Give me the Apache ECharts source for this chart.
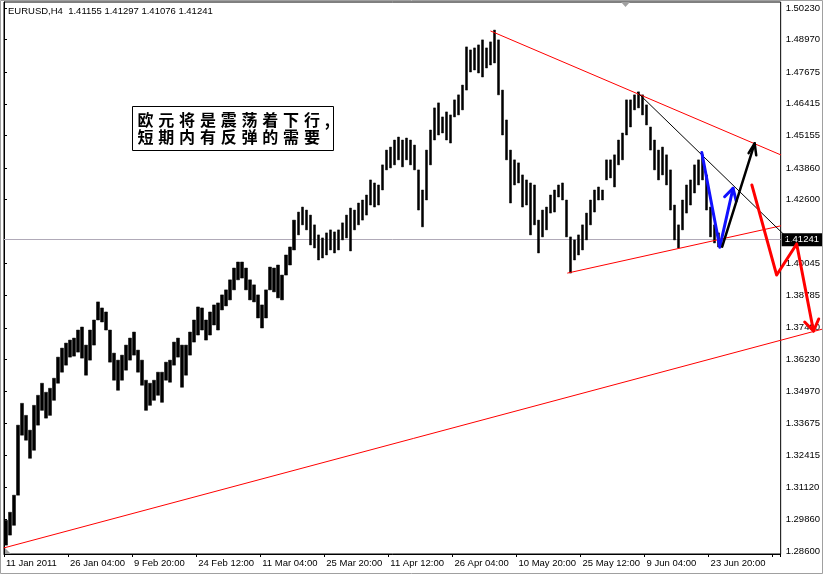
<!DOCTYPE html>
<html><head><meta charset="utf-8">
<script src="https://cdn.jsdelivr.net/npm/echarts@6/dist/echarts.min.js"></script>
<style>html,body{margin:0;padding:0;background:#fff;}#c{width:823px;height:574px;}</style>
</head><body><div id="c"></div>
<script>
// ---- data ----
const symbolName = 'EURUSD,H4';
const lastBarOHLC = [1.41155, 1.41297, 1.41076, 1.41241];
const lastPrice = 1.41241;
// each slot = 4 H4 bars (16 hours); one time label every 16 slots (64 bars)
const slotCount = 194;
const slotsPerLabel = 16;
const xTickLabels = ['11 Jan 2011','26 Jan 04:00','9 Feb 20:00','24 Feb 12:00','11 Mar 04:00','25 Mar 20:00','11 Apr 12:00','26 Apr 04:00','10 May 20:00','25 May 12:00','9 Jun 04:00','23 Jun 20:00'];
const yTickValues = [1.50230,1.48970,1.47675,1.46415,1.45155,1.43860,1.42600,1.40045,1.38785,1.37490,1.36230,1.34970,1.33675,1.32415,1.31120,1.29860,1.28600];
const yMin = 1.28477, yMax = 1.50469;

const highs = [1.2982,1.3014,1.3082,1.3361,1.3448,1.3400,1.3341,1.3440,1.3480,1.3528,
1.3492,1.3508,1.3548,1.3632,1.3668,1.3688,1.3700,1.3708,1.3740,1.3752,
1.3680,1.3740,1.3780,1.3852,1.3828,1.3812,1.3740,1.3648,1.3620,1.3640,
1.3680,1.3708,1.3732,1.3660,1.3620,1.3540,1.3528,1.3540,1.3572,1.3572,
1.3612,1.3620,1.3692,1.3708,1.3680,1.3680,1.3732,1.3780,1.3832,1.3828,
1.3780,1.3812,1.3840,1.3848,1.3880,1.3900,1.3940,1.3987,1.4011,1.4011,
1.3987,1.3940,1.3920,1.3880,1.3840,1.3900,1.3991,1.3987,1.3999,1.3959,
1.4039,1.4071,1.4178,1.4210,1.4230,1.4218,1.4198,1.4159,1.4119,1.4107,
1.4127,1.4139,1.4131,1.4139,1.4167,1.4198,1.4226,1.4218,1.4246,1.4258,
1.4278,1.4338,1.4326,1.4318,1.4398,1.4457,1.4469,1.4497,1.4509,1.4497,
1.4505,1.4497,1.4477,1.4378,1.4298,1.4457,1.4537,1.4625,1.4645,1.4589,
1.4609,1.4597,1.4657,1.4677,1.4716,1.4868,1.4856,1.4864,1.4876,1.4896,
1.4864,1.4888,1.4935,1.4896,1.4696,1.4577,1.4457,1.4418,1.4406,1.4358,
1.4338,1.4326,1.4318,1.4178,1.4218,1.4230,1.4278,1.4298,1.4318,1.4326,
1.4258,1.4111,1.4099,1.4119,1.4159,1.4206,1.4258,1.4298,1.4310,1.4298,
1.4418,1.4418,1.4438,1.4497,1.4525,1.4657,1.4657,1.4677,1.4689,1.4677,
1.4637,1.4549,1.4497,1.4457,1.4469,1.4438,1.4378,1.4238,1.4159,1.4258,
1.4318,1.4338,1.4398,1.4418,1.4438,1.4358,1.4230,1.4159,1.4127];
const lows = [1.2883,1.2923,1.2962,1.3082,1.3321,1.3301,1.3229,1.3261,1.3361,1.3420,
1.3389,1.3400,1.3460,1.3528,1.3572,1.3600,1.3632,1.3636,1.3652,1.3628,
1.3560,1.3620,1.3680,1.3780,1.3772,1.3740,1.3612,1.3540,1.3500,1.3540,
1.3580,1.3620,1.3640,1.3572,1.3520,1.3420,1.3440,1.3460,1.3480,1.3452,
1.3540,1.3532,1.3600,1.3632,1.3512,1.3560,1.3640,1.3692,1.3720,1.3740,
1.3700,1.3720,1.3760,1.3740,1.3820,1.3836,1.3860,1.3900,1.3940,1.3947,
1.3900,1.3860,1.3852,1.3788,1.3748,1.3788,1.3900,1.3892,1.3868,1.3860,
1.3959,1.3999,1.4059,1.4119,1.4159,1.4139,1.4079,1.4067,1.4019,1.4027,
1.4039,1.4059,1.4047,1.4059,1.4099,1.4107,1.4055,1.4139,1.4159,1.4178,
1.4198,1.4238,1.4230,1.4238,1.4298,1.4378,1.4386,1.4398,1.4418,1.4390,
1.4418,1.4398,1.4378,1.4218,1.4151,1.4258,1.4398,1.4497,1.4517,1.4525,
1.4497,1.4485,1.4589,1.4597,1.4617,1.4696,1.4768,1.4776,1.4764,1.4748,
1.4784,1.4796,1.4804,1.4677,1.4517,1.4418,1.4246,1.4318,1.4326,1.4230,
1.4238,1.4119,1.4159,1.4047,1.4111,1.4139,1.4206,1.4210,1.4270,1.4258,
1.4111,1.3967,1.4019,1.4039,1.4059,1.4099,1.4159,1.4210,1.4258,1.4258,
1.4338,1.4346,1.4310,1.4398,1.4418,1.4517,1.4549,1.4617,1.4625,1.4597,
1.4557,1.4457,1.4378,1.4338,1.4358,1.4318,1.4218,1.4099,1.4067,1.4139,
1.4206,1.4238,1.4286,1.4318,1.4338,1.4218,1.4111,1.4087,1.4071];

// drawn objects: [slot position, price]
const longSupport = [[0,1.2872],[204.5,1.3744]];
const upperResistance = [[121.6,1.4931],[194.0,1.4438]];
const lowerSupport = [[140.8,1.3967],[194.0,1.4155]];
const thinTrend = [[158.2,1.4687],[198.0,1.4071]];
const blueArrow = [[174.3,1.4447],[178.8,1.4070],[182.1,1.4305]];
const blueHead = [[180.0,1.4271],[182.1,1.4305],[182.9,1.4254]];
const blackArrow = [[179.4,1.4072],[187.5,1.4484]];
const blackHead = [[186.0,1.4445],[187.5,1.4484],[187.9,1.4436]];
const redArrow = [[186.8,1.4318],[193.0,1.3959],[198.0,1.4083],[202.2,1.3736]];
const redHead = [[200.0,1.3772],[202.2,1.3736],[203.5,1.3784]];
const noteLines = ['欧元将是震荡着下行,', '短期内有反弹的需要'];

// ---- build ----
const categories = [];
for (let i = 0; i < slotCount; i++) {
  categories.push(i % slotsPerLabel === 0 ? (xTickLabels[i / slotsPerLabel] || '') : '');
}
const candles = highs.map((h, i) => [lows[i], h, lows[i], h]);
const FONT = 'Liberation Sans';

const chart = echarts.init(document.getElementById('c'), null, { renderer: 'canvas' });
chart.setOption({
  animation: false,
  backgroundColor: '#fff',
  title: {
    text: symbolName + '  ' + lastBarOHLC.map(v => v.toFixed(5)).join(' '),
    left: 8, top: 6, padding: 0,
    textStyle: { fontSize: 9.5, fontWeight: 'normal', color: '#000', fontFamily: FONT }
  },
  grid: { left: 4, top: 2, width: 777, height: 552, show: true, borderColor: '#000', borderWidth: 1, backgroundColor: '#fff' },
  xAxis: [{
    type: 'category', data: categories, boundaryGap: true,
    axisLine: { lineStyle: { color: '#000', width: 1 } },
    axisTick: { show: true, interval: slotsPerLabel - 1, length: 3, lineStyle: { color: '#000' } },
    axisLabel: { interval: slotsPerLabel - 1, align: 'left', color: '#000', fontSize: 9.5, fontFamily: FONT, margin: 4 },
    splitLine: { show: false }
  }, {
    type: 'value', min: 0, max: slotCount, show: false
  }],
  yAxis: [{
    type: 'value', position: 'right', min: yMin, max: yMax, scale: true,
    axisLine: { show: true, lineStyle: { color: '#000' } },
    axisTick: { show: true, length: 3, customValues: yTickValues, lineStyle: { color: '#000' } },
    axisLabel: { customValues: yTickValues, formatter: v => v.toFixed(5), color: '#000', fontSize: 9.5, fontFamily: FONT, margin: 5 },
    splitLine: { show: false }
  }],
  series: [{
    type: 'candlestick', xAxisIndex: 0, yAxisIndex: 0, data: candles, barWidth: 3,
    itemStyle: { color: '#000', color0: '#000', borderColor: '#000', borderColor0: '#000', borderWidth: 0.5 },
    silent: true,
    markLine: {
      silent: true, symbol: ['none', 'none'], z: 1,
      lineStyle: { color: '#b0aab8', width: 1, type: 'solid' },
      label: { show: true, position: 'end', distance: 1, formatter: () => lastPrice.toFixed(5),
        color: '#fff', backgroundColor: '#000', padding: [2, 3, 1, 3], fontSize: 9.5, fontFamily: FONT },
      data: [{ yAxis: lastPrice }]
    }
  }]
});

// drawn objects, positioned through the chart's own axes
function px(pt) {
  return [chart.convertToPixel({ xAxisIndex: 1 }, pt[0]), chart.convertToPixel({ yAxisIndex: 0 }, pt[1])];
}
function poly(data, color, width) {
  return { type: 'polyline', silent: true, z: 50, shape: { points: data.map(px) },
    style: { stroke: color, lineWidth: width, fill: null, lineCap: 'round', lineJoin: 'round' } };
}
const noteChars = [];
const advance = 20.8;
noteLines.forEach((line, r) => {
  Array.from(line).forEach((ch, i) => {
    noteChars.push({ type: 'text', x: 5 + i * advance, y: 5 + r * 17.5,
      style: { text: ch, font: 'bold 16px "Noto Sans CJK SC"', fill: '#000' } });
  });
});
chart.setOption({
  graphic: [
    poly(longSupport, '#ff0000', 1),
    poly(upperResistance, '#ff0000', 1),
    poly(lowerSupport, '#ff0000', 1),
    poly(thinTrend, '#000', 1),
    poly(blueArrow, '#1010ff', 3),
    poly(blueHead, '#1010ff', 3),
    poly(blackArrow, '#000', 2.5),
    poly(blackHead, '#000', 2.5),
    poly(redArrow, '#ff0000', 3),
    poly(redHead, '#ff0000', 3),
    { type: 'rect', silent: true, z: 100, shape: { x: 0.5, y: 0.5, width: 822, height: 573 }, style: { fill: 'none', stroke: '#a0a0a0', lineWidth: 1 } },
    { type: 'polygon', silent: true, z: 100, shape: { points: [[621, 2], [630, 2], [625.5, 7]] }, style: { fill: '#a0a0a0' } },
    { type: 'polygon', silent: true, z: 100, shape: { points: [[5, 548], [5, 554], [11, 554]] }, style: { fill: '#a0a0a0' } },
    { type: 'group', left: 132, top: 106, z: 100, children: [
      { type: 'rect', shape: { x: 0, y: 0, width: 201, height: 44 }, style: { fill: '#fff', stroke: '#000', lineWidth: 1 } }
    ].concat(noteChars) }
  ]
});
</script>
</body></html>
